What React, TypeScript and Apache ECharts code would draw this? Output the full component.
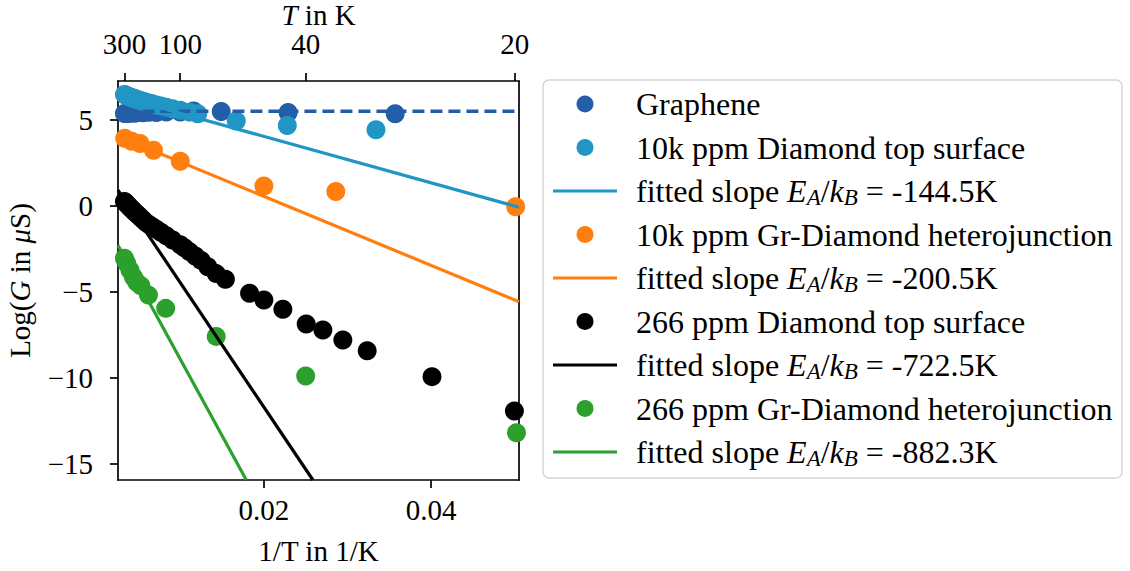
import React, { useEffect, useRef } from "react";
import * as echarts from "echarts";

const FONT = "'Liberation Serif', 'Times New Roman', serif";

// axis ranges (1/T in 1/K, Log G)
const X_MIN = 0.00256;
const X_MAX = 0.0505;
const Y_MIN = -15.95;
const Y_MAX = 7.25;
const BOTTOM_TICKS = [0.02, 0.04];
const TOP_TEMPS = [300, 100, 40, 20];
const Y_TICKS = [-15, -10, -5, 0, 5];

// [1/T, Log G]
const graphene: number[][] = [
  [0.00333, 5.36], [0.00357, 5.38], [0.00385, 5.36], [0.00417, 5.4], [0.00455, 5.38],
  [0.005, 5.42], [0.00556, 5.4], [0.00625, 5.43], [0.00714, 5.42], [0.00833, 5.45],
  [0.01, 5.45], [0.0116, 5.5], [0.0149, 5.48], [0.0229, 5.42], [0.0357, 5.35],
];
const grapheneFit: number[][] = [[0.00333, 5.49], [0.05, 5.49]];

const cyan: number[][] = [
  [0.00333, 6.47], [0.00345, 6.44], [0.00357, 6.41], [0.0037, 6.38], [0.00385, 6.35],
  [0.004, 6.32], [0.00417, 6.29], [0.00435, 6.26], [0.00455, 6.23], [0.00476, 6.19],
  [0.005, 6.15], [0.00526, 6.11], [0.00556, 6.07], [0.00588, 6.02], [0.00625, 5.97],
  [0.00667, 5.92], [0.00714, 5.86], [0.00769, 5.8], [0.00833, 5.73], [0.00909, 5.64],
  [0.01, 5.55], [0.0111, 5.44], [0.0121, 5.34], [0.0167, 4.92], [0.0228, 4.66], [0.0334, 4.42],
];
const cyanFit: number[][] = [[0.00256, 6.38], [0.0505, -0.09]];

const orange: number[][] = [
  [0.00336, 3.92], [0.0042, 3.75], [0.0052, 3.62], [0.0068, 3.22], [0.01, 2.58],
  [0.02, 1.15], [0.0286, 0.82], [0.0501, -0.06],
];
const orangeFit: number[][] = [[0.00256, 4.04], [0.0505, -5.58]];

const black: number[][] = [
  [0.00333, 0.25], [0.00345, 0.18], [0.00357, 0.12], [0.0037, 0.05], [0.00385, -0.02],
  [0.004, -0.1], [0.00417, -0.18], [0.00435, -0.27], [0.00455, -0.36], [0.00476, -0.45],
  [0.005, -0.55], [0.00526, -0.68], [0.00556, -0.82], [0.00588, -0.97], [0.00625, -1.09],
  [0.00667, -1.22], [0.00714, -1.37], [0.00769, -1.55], [0.00833, -1.75], [0.00909, -1.99],
  [0.01, -2.27], [0.0105, -2.45], [0.0111, -2.67], [0.0118, -2.93], [0.0125, -3.18],
  [0.0133, -3.55], [0.0143, -3.95], [0.0154, -4.28],
  [0.01829, -5.09], [0.02, -5.48], [0.02227, -6.02], [0.02506, -6.88], [0.02705, -7.23],
  [0.02944, -7.81], [0.03235, -8.43], [0.0401, -9.94], [0.04995, -11.94],
];
const blackFit: number[][] = [[0.00256, 0.91], [0.02586, -15.95]];

const green: number[][] = [
  [0.00333, -3.05], [0.0036, -3.35], [0.004, -3.75], [0.0044, -4.15], [0.0048, -4.45],
  [0.0053, -4.65], [0.0062, -5.2], [0.00826, -5.97], [0.0143, -7.6], [0.025, -9.9], [0.0502, -13.2],
];
const greenFit: number[][] = [[0.00256, -2.3], [0.0179, -15.95]];

const C_GRAPHENE = "#245ea8";
const C_CYAN = "#2196c4";
const C_ORANGE = "#ff7f0e";
const C_BLACK = "#000000";
const C_GREEN = "#2ca02c";

const LEGEND_LABELS = [
  "Graphene",
  "10k ppm Diamond top surface",
  "-144.5K",
  "10k ppm Gr-Diamond heterojunction",
  "-200.5K",
  "266 ppm Diamond top surface",
  "-722.5K",
  "266 ppm Gr-Diamond heterojunction",
  "-882.3K",
];
const LEGEND_KIND = ["dot", "dot", "line", "dot", "line", "dot", "line", "dot", "line"];
const LEGEND_COLORS = [C_GRAPHENE, C_CYAN, C_CYAN, C_ORANGE, C_ORANGE, C_BLACK, C_BLACK, C_GREEN, C_GREEN];

const SYMBOL = 19;
const LW = 3.2;

export default function App() {
  const ref = useRef<HTMLDivElement>(null);
  useEffect(() => {
    if (!ref.current) return;
    const chart = echarts.init(ref.current, null, { renderer: "svg" });
    const base = { fontFamily: FONT, fontSize: 29, color: "#000" };
    const axisLine = { show: true, onZero: false, lineStyle: { color: "#000", width: 1.7 } };
    const tick = (vals: number[]) => ({
      show: true, length: 8, lineStyle: { color: "#000", width: 1.7 }, customValues: vals,
    });

    const legendX = 543, legendY = 80, legendW = 579, legendH = 398;
    const rowY0 = 104, rowGap = 43.5;
    const legendFont = 32;
    const legendEls: any[] = [
      {
        type: "rect", shape: { x: legendX, y: legendY, width: legendW, height: legendH, r: 6 },
        style: { fill: "#fff", stroke: "#d6d6d6", lineWidth: 1.5 }, z: 100,
      },
    ];
    LEGEND_LABELS.forEach((lab, i) => {
      const y = rowY0 + i * rowGap;
      if (LEGEND_KIND[i] === "dot") {
        legendEls.push({ type: "circle", shape: { cx: 585, cy: y, r: 8.5 }, style: { fill: LEGEND_COLORS[i] }, z: 101 });
        legendEls.push({
          type: "text", x: 636, y, z: 101,
          style: { text: lab, fontFamily: FONT, fontSize: legendFont, fill: "#000", verticalAlign: "middle" },
        });
      } else {
        legendEls.push({ type: "line", shape: { x1: 553, y1: y, x2: 617, y2: y }, style: { stroke: LEGEND_COLORS[i], lineWidth: LW }, z: 101 });
        legendEls.push({
          type: "text", x: 636, y, z: 101,
          style: {
            text: `{n|fitted slope }{i|E}{s|A}{n|/}{i|k}{s|B}{n| = ${lab}}`,
            verticalAlign: "middle", fill: "#000",
            rich: {
              n: { fontFamily: FONT, fontSize: legendFont, lineHeight: 36, fill: "#000" },
              i: { fontFamily: FONT, fontSize: legendFont, fontStyle: "italic", lineHeight: 36, fill: "#000" },
              s: { fontFamily: FONT, fontSize: 23, fontStyle: "italic", lineHeight: 20, verticalAlign: "bottom", fill: "#000" },
            },
          },
        });
      }
    });

    const scatter = (name: string, data: number[][], color: string) => ({
      type: "scatter", name, data, symbolSize: SYMBOL, itemStyle: { color, opacity: 1 },
      xAxisIndex: 0, yAxisIndex: 0, clip: true,
    });
    const fit = (name: string, data: number[][], color: string, dashed = false) => ({
      type: "line", name, data, showSymbol: false, symbol: "none",
      lineStyle: { color, width: dashed ? 3.4 : LW, type: dashed ? [12, 6] : "solid" },
      xAxisIndex: 0, yAxisIndex: 0, clip: true,
    });

    chart.setOption({
      animation: false,
      backgroundColor: "#fff",
      grid: { left: 118, top: 81, width: 401, height: 399, containLabel: false, outerBoundsMode: "none" },
      xAxis: [
        {
          type: "value", min: X_MIN, max: X_MAX, position: "bottom",
          name: "1/T in 1/K", nameLocation: "middle", nameGap: 56, nameMoveOverlap: false,
          nameTextStyle: { ...base },
          axisLine, axisTick: tick(BOTTOM_TICKS),
          axisLabel: { ...base, customValues: BOTTOM_TICKS, margin: 15, formatter: (v: number) => v.toFixed(2) },
          splitLine: { show: false },
        },
        {
          type: "value", min: X_MIN, max: X_MAX, position: "top",
          name: "{i|T}{n| in K}", nameLocation: "middle", nameGap: 52, nameMoveOverlap: false,
          nameTextStyle: {
            ...base,
            lineHeight: 28,
            rich: {
              i: { fontFamily: FONT, fontSize: 29, fontStyle: "italic", color: "#000", lineHeight: 28 },
              n: { fontFamily: FONT, fontSize: 29, color: "#000", lineHeight: 28 },
            },
          },
          axisLine, axisTick: tick(TOP_TEMPS.map((t) => 1 / t)),
          axisLabel: {
            ...base, customValues: TOP_TEMPS.map((t) => 1 / t), margin: 23,
            formatter: (v: number) => String(Math.round(1 / v)),
          },
          splitLine: { show: false },
        },
      ],
      yAxis: [
        {
          type: "value", min: Y_MIN, max: Y_MAX, position: "left",
          name: "{n|Log(}{i|G}{n| in }{i|μ}{n|S)}", nameLocation: "middle", nameRotate: 90, nameGap: 84,
          nameMoveOverlap: false,
          nameTextStyle: {
            ...base,
            rich: {
              i: { fontFamily: FONT, fontSize: 29, fontStyle: "italic", color: "#000" },
              n: { fontFamily: FONT, fontSize: 29, color: "#000" },
            },
          },
          axisLine, axisTick: tick(Y_TICKS),
          axisLabel: {
            ...base, customValues: Y_TICKS, margin: 25,
            formatter: (v: number) => (v < 0 ? "\u2212" + Math.abs(v) : String(v)),
          },
          splitLine: { show: false },
        },
        {
          type: "value", min: Y_MIN, max: Y_MAX, position: "right",
          axisLine, axisTick: { show: false }, axisLabel: { show: false }, splitLine: { show: false },
        },
      ],
      series: [
        scatter("Graphene", graphene, C_GRAPHENE),
        fit("Graphene fit", grapheneFit, C_GRAPHENE, true),
        scatter("10k ppm Diamond top surface", cyan, C_CYAN),
        fit("fit -144.5K", cyanFit, C_CYAN),
        scatter("10k ppm Gr-Diamond heterojunction", orange, C_ORANGE),
        fit("fit -200.5K", orangeFit, C_ORANGE),
        scatter("266 ppm Diamond top surface", black, C_BLACK),
        fit("fit -722.5K", blackFit, C_BLACK),
        scatter("266 ppm Gr-Diamond heterojunction", green, C_GREEN),
        fit("fit -882.3K", greenFit, C_GREEN),
      ],
      graphic: legendEls,
    });
    return () => chart.dispose();
  }, []);
  return (
    <div
      ref={ref}
      style={{ position: "fixed", left: 0, top: 0, width: 1130, height: 571, background: "#fff" }}
    />
  );
}
